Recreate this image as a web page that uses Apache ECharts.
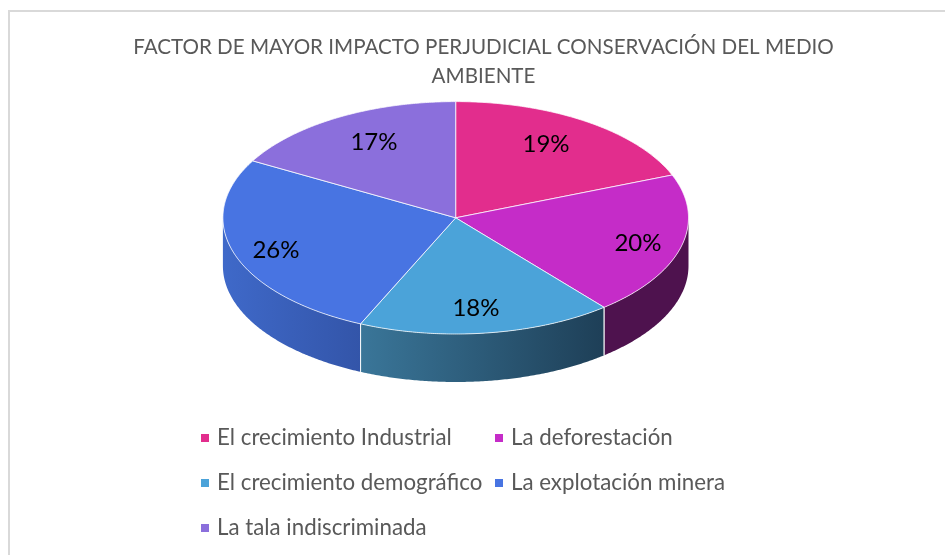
<!DOCTYPE html>
<html>
<head>
<meta charset="utf-8">
<style>html,body{margin:0;padding:0;background:#fff}#c{width:945px;height:555px}</style>
<script src="https://cdn.jsdelivr.net/npm/echarts@6/dist/echarts.min.js"></script>
</head>
<body>
<div id="c"></div>
<script>
const titleText = 'FACTOR DE MAYOR IMPACTO PERJUDICIAL CONSERVACIÓN DEL MEDIO\nAMBIENTE';
const categories = ['El crecimiento Industrial', 'La deforestación', 'El crecimiento demográfico', 'La explotación minera', 'La tala indiscriminada'];
const shares = [19, 20, 17.7, 26.45, 16.85];
const topColors = ['#E22D8D', '#C52CC8', '#4BA3D9', '#4874E2', '#8B6FDC'];
const wallColors = [null, ['#4E124E', '#4E124E'], ['#3A7699', '#1E3F57'], ['#3F69C9', '#3355A9'], null];
const labelSpots = [[0.388, -0.63], [0.783, 0.222], [0.087, 0.781], [-0.772, 0.282], [-0.351, -0.651]];
const legendSpots = [[198, 427], [492, 427], [198, 472], [492, 472], [198, 517]];

const FONT = 'Lato, "Open Sans", sans-serif';
const CX = 455.7, CY = 217.8, RX = 232.8, RY = 116.2, DEPTH = 48;
const total = shares.reduce((a, b) => a + b, 0);
const startOf = i => shares.slice(0, i).reduce((a, b) => a + b, 0) / total * 360;
const pt = (deg, dy) => {
  const r = deg * Math.PI / 180;
  return [CX + RX * Math.sin(r), CY - RY * Math.cos(r) + (dy || 0)];
};
const arc = (a0, a1, dy) => {
  const out = [];
  const n = Math.max(2, Math.ceil(Math.abs(a1 - a0) * 2));
  for (let k = 0; k <= n; k++) out.push(pt(a0 + (a1 - a0) * k / n, dy));
  return out;
};
const edge = 'rgba(255,255,255,0.75)';

function sliceRenderer(i) {
  return function (params, api) {
    const a0 = startOf(i);
    const a1 = a0 + api.value(0) / total * 360;
    const children = [];
    const wa0 = Math.max(a0, 90), wa1 = Math.min(a1, 270);
    if (wa1 > wa0 && wallColors[i]) {
      const top = arc(wa0, wa1, 0);
      const bottom = arc(wa1, wa0, DEPTH);
      children.push({
        type: 'polygon',
        shape: { points: top.concat(bottom) },
        style: {
          fill: {
            type: 'linear', x: 0, y: 0, x2: 1, y2: 0,
            colorStops: [{ offset: 0, color: wallColors[i][0] }, { offset: 1, color: wallColors[i][1] }]
          }
        }
      });
      [wa0, wa1].forEach(a => {
        if (a > 90 && a < 270) {
          children.push({
            type: 'line',
            z2: 5,
            shape: { x1: pt(a)[0], y1: pt(a)[1], x2: pt(a, DEPTH)[0], y2: pt(a, DEPTH)[1] },
            style: { stroke: edge, lineWidth: 1 }
          });
        }
      });
    }
    children.push({
      type: 'polygon',
      z2: 10,
      shape: { points: [[CX, CY]].concat(arc(a0, a1, 0)) },
      style: { fill: topColors[i], stroke: edge, lineWidth: 1, lineJoin: 'round' }
    });
    children.push({
      type: 'text',
      z2: 20,
      style: {
        x: CX + labelSpots[i][0] * RX,
        y: CY + labelSpots[i][1] * RY,
        text: Math.round(api.value(0) / total * 100) + '%',
        fill: '#000',
        font: '24px ' + FONT,
        align: 'center',
        verticalAlign: 'middle'
      }
    });
    return { type: 'group', children };
  };
}

const chart = echarts.init(document.getElementById('c'), null, { renderer: 'canvas' });
chart.setOption({
  animation: false,
  backgroundColor: '#fff',
  title: {
    text: titleText,
    left: 478.5,
    top: 28,
    textAlign: 'center',
    textStyle: { fontFamily: FONT, fontSize: 20.6, fontWeight: 'normal', color: '#595959', lineHeight: 29 }
  },
  legend: categories.map((name, i) => ({
    data: [name],
    left: legendSpots[i][0],
    top: legendSpots[i][1],
    orient: 'horizontal',
    icon: 'rect',
    itemWidth: 8,
    itemHeight: 8,
    selectedMode: false,
    padding: [0, 0, 0, 3],
    textStyle: { fontFamily: FONT, fontSize: 22.3, color: '#595959', padding: [0, 0, 0, 3] }
  })),
  graphic: [
    { type: 'line', shape: { x1: 9, y1: 11, x2: 945, y2: 11 }, style: { stroke: '#D9D9D9', lineWidth: 2 } },
    { type: 'line', shape: { x1: 9, y1: 10, x2: 9, y2: 555 }, style: { stroke: '#D9D9D9', lineWidth: 2 } }
  ],
  series: categories.map((name, i) => ({
    type: 'custom',
    name,
    coordinateSystem: 'none',
    silent: true,
    itemStyle: { color: topColors[i] },
    data: [[shares[i]]],
    renderItem: sliceRenderer(i)
  }))
});
</script>
</body>
</html>
